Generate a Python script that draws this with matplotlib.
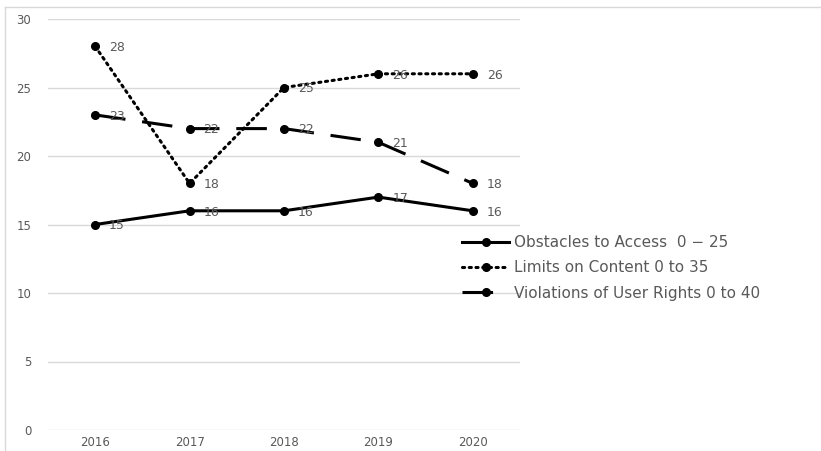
import matplotlib

matplotlib.use("Agg")
import matplotlib.pyplot as plt
from matplotlib.lines import Line2D

# ── Data ──────────────────────────────────────────────────────────────────────
YEARS = ["2016", "2017", "2018", "2019", "2020"]
OBSTACLES = [15, 16, 16, 17, 16]
LIMITS = [28, 18, 25, 26, 26]
VIOLATIONS = [23, 22, 22, 21, 18]

LABELS = [
    "Obstacles to Access  0 \u2212 25",
    "Limits on Content 0 to 35",
    "Violations of User Rights 0 to 40",
]

GRAY = "#595959"
GRID = "#d9d9d9"

plt.rcParams["font.family"] = ["DejaVu Sans"]

fig = plt.figure(figsize=(8.21, 4.51), dpi=100)
ax = fig.add_axes([48 / 821, 21 / 451, 472 / 821, 411 / 451])

x = list(range(len(YEARS)))
styles = [
    dict(ls="-", dash_capstyle="butt"),
    dict(ls=(0, (0.7, 1.5)), dash_capstyle="round"),
    dict(ls=(0, (10, 5.5)), dash_capstyle="butt"),
]
handles = []
for vals, st, lab in zip([OBSTACLES, LIMITS, VIOLATIONS], styles, LABELS):
    (h,) = ax.plot(
        x, vals, color="black", lw=2.2, marker="o", ms=5.5,
        label=lab, zorder=3, **st,
    )
    handles.append(h)
    for xi, v in zip(x, vals):
        ax.annotate(
            str(v), (xi, v), xytext=(10, -1), textcoords="offset points",
            va="center", ha="left", fontsize=9, color=GRAY, zorder=4,
        )

ax.set_xlim(-0.5, len(YEARS) - 0.5)
ax.set_ylim(0, 30)
ax.set_yticks([0, 5, 10, 15, 20, 25, 30])
ax.set_xticks(x)
ax.set_xticklabels(YEARS)
ax.grid(axis="y", color=GRID, lw=1)
ax.set_axisbelow(True)
for s in ax.spines.values():
    s.set_visible(False)
ax.tick_params(axis="both", length=0, labelsize=8.5, labelcolor=GRAY)
ax.tick_params(axis="y", pad=12)
ax.tick_params(axis="x", pad=4)

leg = fig.legend(
    handles=handles, loc="upper left",
    bbox_to_anchor=(462 / 821, 1 - 235 / 451),
    frameon=False, fontsize=11, handlelength=3.1, handletextpad=0.3,
    labelspacing=0.68, borderaxespad=0, borderpad=0,
)
for t in leg.get_texts():
    t.set_color(GRAY)

# outer frame lines
fig.add_artist(Line2D([5 / 821, 5 / 821], [0, 1 - 7 / 451], color=GRID, lw=1))
fig.add_artist(Line2D([5 / 821, 1], [1 - 7 / 451, 1 - 7 / 451], color=GRID, lw=1))

fig.savefig("out.png", dpi=100)
